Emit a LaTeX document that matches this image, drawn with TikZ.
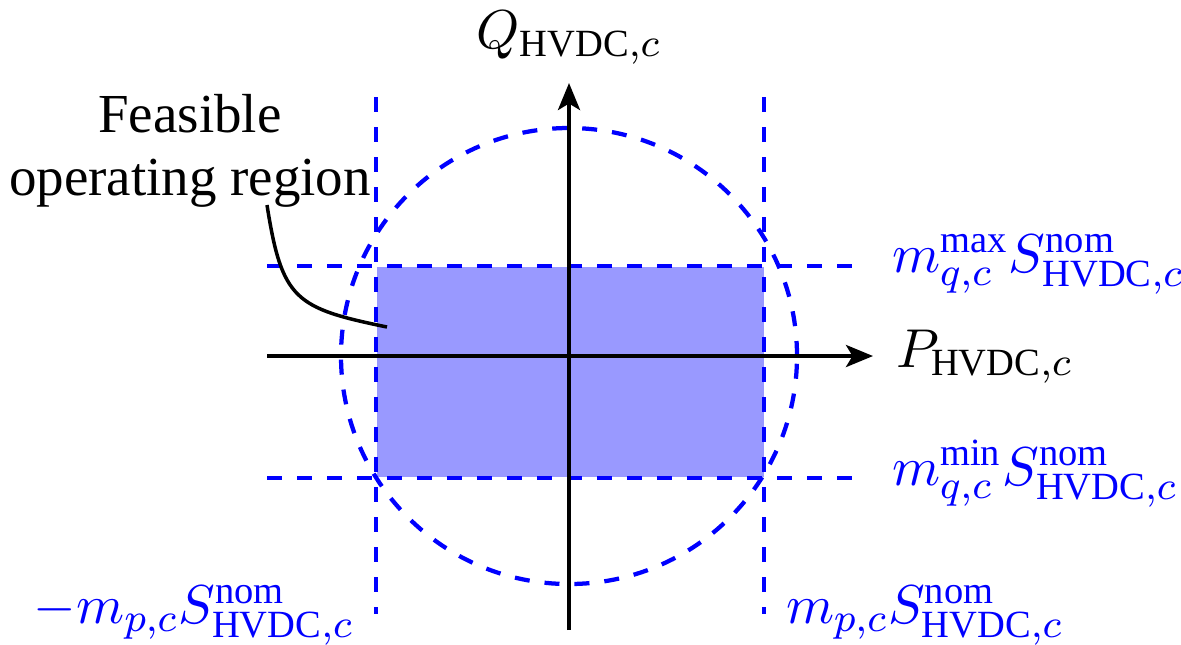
\documentclass[tikz,border=0pt]{standalone}
\usepackage{fontspec}
\setmainfont{Liberation Serif}
\usetikzlibrary{arrows.meta}
\begin{document}
\begin{tikzpicture}[x=0.2pt,y=-0.2pt,
  axis/.style={line width=0.8pt, -{Stealth[length=5.4pt,width=4.4pt,inset=1.3pt]}},
  bound/.style={blue, line width=0.85pt, dash pattern=on 3pt off 3pt},
  lbl/.style={inner sep=0pt, font=\fontsize{11}{13}\selectfont},
  blbl/.style={lbl, text=blue},
  ]
\useasboundingbox (0,0) rectangle (1181,644);
% coordinates
\coordinate (o) at (569,356);
\coordinate (xl) at (267,356);
\coordinate (xr) at (873,356);
\coordinate (yb) at (569,630);
\coordinate (yt) at (569,83);
\coordinate (v1t) at (376,97);
\coordinate (v1b) at (376,614);
\coordinate (v2t) at (764,97);
\coordinate (v2b) at (764,614);
\coordinate (h1l) at (267,266);
\coordinate (h1r) at (858,266);
\coordinate (h2l) at (267,478);
\coordinate (h2r) at (858,478);
% feasible region
\fill[blue!40] (377,267) rectangle (764,477);
% bounds
\draw[bound] (v1t) -- (v1b);
\draw[bound] (v2t) -- (v2b);
\draw[bound] (h1l) -- (h1r);
\draw[bound] (h2l) -- (h2r);
\draw[bound] (o) circle[radius=45.6pt];
% axes
\draw[axis] (xl) -- (xr);
\draw[axis] (yb) -- (yt);
% labels
\node[lbl, anchor=base] (ql) at (569,48) {$Q_{\mathrm{HVDC},c}$};
\node[lbl, anchor=base west] (pl) at (895,367) {$P_{\mathrm{HVDC},c}$};
\node[blbl, anchor=base west] (qmax) at (891,272) {$m_{q,c}^{\mathrm{max}}S_{\mathrm{HVDC},c}^{\mathrm{nom}}$};
\node[blbl, anchor=base west] (qmin) at (891,485) {$m_{q,c}^{\mathrm{min}}S_{\mathrm{HVDC},c}^{\mathrm{nom}}$};
\node[blbl, anchor=base east] (pmin) at (355,623) {$-m_{p,c}S_{\mathrm{HVDC},c}^{\mathrm{nom}}$};
\node[blbl, anchor=base west] (pmax) at (785,623) {$m_{p,c}S_{\mathrm{HVDC},c}^{\mathrm{nom}}$};
% annotation
\node[inner sep=0pt, align=center, font=\fontsize{11}{12.6}\selectfont, anchor=base] (fr) at (190,195) {Feasible\\operating region};
\coordinate (ps) at (267,205);
\coordinate (pe) at (387,327);
\draw[line width=0.7pt] (ps) .. controls (282,300) and (295,308) .. (pe);
\end{tikzpicture}
\end{document}
